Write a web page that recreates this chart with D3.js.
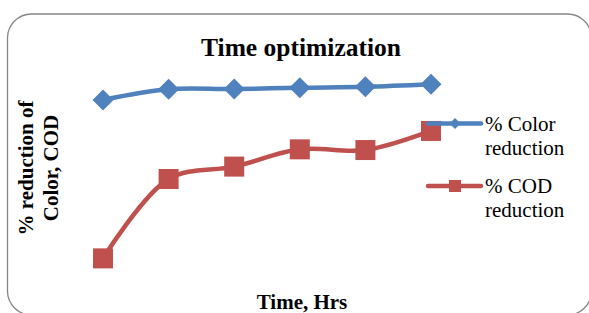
<!DOCTYPE html>
<html>
<head>
<meta charset="utf-8">
<script src="https://cdn.jsdelivr.net/npm/d3@7"></script>
<style>
  body { margin: 0; background: #fff; }
  svg { display: block; }
  text { font-family: "Liberation Serif", "Times New Roman", serif; fill: #000; }
</style>
</head>
<body>
<script>
// ** Data
const hours = ["1", "2", "3", "4", "5", "6"];
const colorReduction = [87.0, 91.6, 91.7, 92.3, 92.7, 93.8];
const codReduction = [18.1, 52.6, 58.0, 65.5, 65.2, 73.5];
const seriesNames = [["% Color", "reduction"], ["% COD", "reduction"]];

// ** Layout
const width = 589;
const height = 313;

const svg = d3.select("body")
  .append("svg")
  .attr("width", width)
  .attr("height", height);

// chart frame (rounded)
svg.append("rect")
  .attr("x", 7.5)
  .attr("y", 14)
  .attr("width", 584)
  .attr("height", 301)
  .attr("rx", 24)
  .attr("fill", "#fff")
  .attr("stroke", "#868686")
  .attr("stroke-width", 1.3);

// scales
const x = d3.scalePoint().domain(hours).range([103, 431]);
const y = d3.scaleLinear().domain([0, 100]).range([300, 70]);

const line = d3.line()
  .x((d, i) => x(hours[i]))
  .y(d => y(d))
  .curve(d3.curveCatmullRom);

const series = [
  { values: colorReduction, color: "#4F81BD", shape: "diamond" },
  { values: codReduction, color: "#C0504D", shape: "square" }
];

const drawMarker = (g, shape, cx, cy, size, color) => {
  if (shape === "diamond") {
    const h = size / 2;
    g.append("path")
      .attr("d", `M${cx},${cy - h}L${cx + h},${cy}L${cx},${cy + h}L${cx - h},${cy}Z`)
      .attr("fill", color);
  } else {
    g.append("rect")
      .attr("x", cx - size / 2)
      .attr("y", cy - size / 2)
      .attr("width", size)
      .attr("height", size)
      .attr("fill", color);
  }
};

series.forEach(s => {
  const g = svg.append("g");
  g.append("path")
    .datum(s.values)
    .attr("d", line)
    .attr("fill", "none")
    .attr("stroke", s.color)
    .attr("stroke-width", 4.5)
    .attr("stroke-linejoin", "round");
  s.values.forEach((v, i) => {
    drawMarker(g, s.shape, x(hours[i]), y(v), s.shape === "diamond" ? 21 : 20, s.color);
  });
});

// ** Titles
svg.append("text")
  .attr("x", 301)
  .attr("y", 56)
  .attr("text-anchor", "middle")
  .style("font-size", "25.5px")
  .style("font-weight", "bold")
  .text("Time optimization");

svg.append("text")
  .attr("x", 302)
  .attr("y", 309)
  .attr("text-anchor", "middle")
  .style("font-size", "21px")
  .style("font-weight", "bold")
  .text("Time, Hrs");

const yTitle = svg.append("text")
  .attr("transform", "translate(33,168) rotate(-90)")
  .attr("text-anchor", "middle")
  .style("font-size", "21px")
  .style("font-weight", "bold");
yTitle.append("tspan").attr("x", 0).attr("y", 0).text("% reduction of");
yTitle.append("tspan").attr("x", 0).attr("y", 25).text("Color, COD");

// ** Legend
const legendY = [123.5, 186];
series.forEach((s, i) => {
  const g = svg.append("g");
  const ly = legendY[i];
  g.append("line")
    .attr("x1", 428)
    .attr("x2", 481)
    .attr("y1", ly)
    .attr("y2", ly)
    .attr("stroke", s.color)
    .attr("stroke-width", 4.5)
    .attr("stroke-linecap", "round");
  drawMarker(g, s.shape, 455, ly, s.shape === "diamond" ? 11 : 12, s.color);
  const t = g.append("text")
    .style("font-size", "21px");
  t.append("tspan").attr("x", 485).attr("y", ly + 7).text(seriesNames[i][0]);
  t.append("tspan").attr("x", 485).attr("y", ly + 31).text(seriesNames[i][1]);
});
</script>
</body>
</html>
